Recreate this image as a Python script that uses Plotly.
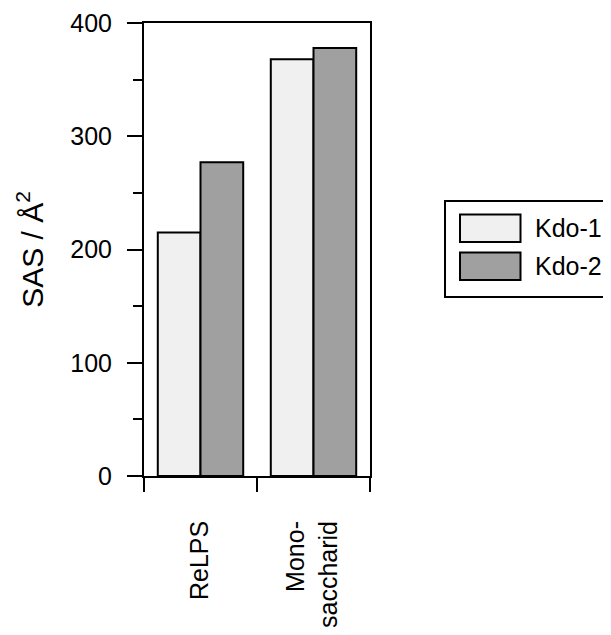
import plotly.graph_objects as go

categories = ["ReLPS", "Mono-<br>saccharid"]
series_names = ["Kdo-1", "Kdo-2"]
kdo1_values = [215, 368]
kdo2_values = [277, 378]
series_colors = ["#f0f0f0", "#a0a0a0"]
y_ticks = [0, 100, 200, 300, 400]

# page body has an 8px margin; lay out in page pixel coordinates
OFF = 8
W, H = 611 - 2 * OFF, 635 - 2 * OFF
PLOT_L, PLOT_R, PLOT_T, PLOT_B = 144, 370, 23, 476   # page pixels
L = PLOT_L - OFF
R = W - (PLOT_R - OFF)
T = PLOT_T - OFF
B = H - (PLOT_B - OFF)
PW, PH = PLOT_R - PLOT_L, PLOT_B - PLOT_T
FONT = "Liberation Sans, Arial, sans-serif"


def px(x):
    return (x - PLOT_L) / PW


def py(y):
    return (PLOT_B - y) / PH


fig = go.Figure()
for name, vals, col in zip(series_names, [kdo1_values, kdo2_values], series_colors):
    fig.add_trace(go.Bar(
        x=categories, y=vals, name=name,
        marker=dict(color=col, line=dict(color="black", width=2)),
        showlegend=False,
    ))

# manual legend (big swatches like the reference)
shapes = [dict(type="rect", xref="paper", yref="paper",
               x0=px(445), x1=px(620), y0=py(297), y1=py(201),
               line=dict(color="black", width=2), fillcolor="white", layer="above")]
annotations = []
sw_y = [(214.5, 242), (252.5, 280)]
for (y0, y1), name, col in zip(sw_y, series_names, series_colors):
    shapes.append(dict(type="rect", xref="paper", yref="paper",
                       x0=px(460), x1=px(520.5), y0=py(y1), y1=py(y0),
                       line=dict(color="black", width=2), fillcolor=col, layer="above"))
    annotations.append(dict(xref="paper", yref="paper", x=px(533), y=py((y0 + y1) / 2),
                            text=name, showarrow=False, xanchor="left", yanchor="middle",
                            font=dict(size=25, color="black", family=FONT)))

# category labels, rotated, aligned at their top ends like the reference
for cat in categories:
    annotations.append(dict(xref="x", yref="paper", x=cat, y=py(519), xshift=-2,
                            text=cat, showarrow=False, textangle=-90, align="right",
                            xanchor="center", yanchor="top",
                            font=dict(size=25, color="black", family=FONT)))

fig.update_layout(
    width=W, height=H,
    margin=dict(l=L, r=R, t=T, b=B, pad=0, autoexpand=False),
    paper_bgcolor="white", plot_bgcolor="white",
    barmode="group", bargap=0.244, bargroupgap=0,
    font=dict(family=FONT, size=25, color="black"),
    shapes=shapes, annotations=annotations,
    showlegend=False,
)
fig.update_yaxes(
    automargin=False,
    range=[0, 400], tickvals=y_ticks, ticks="outside", ticklen=15, tickwidth=2,
    tickcolor="black", showline=True, linewidth=2, linecolor="black", mirror=True,
    showgrid=False, zeroline=False, ticklabelstandoff=10,
    minor=dict(dtick=50, ticks="outside", ticklen=9, tickwidth=2, tickcolor="black", showgrid=False),
    tickfont=dict(size=25, family=FONT, color="black"),
    title=dict(text="SAS / Å<sup>2</sup>", font=dict(size=30, family=FONT, color="black"), standoff=18),
)
fig.update_xaxes(
    automargin=False,
    type="category", tickson="boundaries", ticks="outside", ticklen=14, tickwidth=2,
    tickcolor="black", showline=True, linewidth=2, linecolor="black", mirror=True,
    showgrid=False, zeroline=False, showticklabels=False,
)

fig.write_html("out.html")
